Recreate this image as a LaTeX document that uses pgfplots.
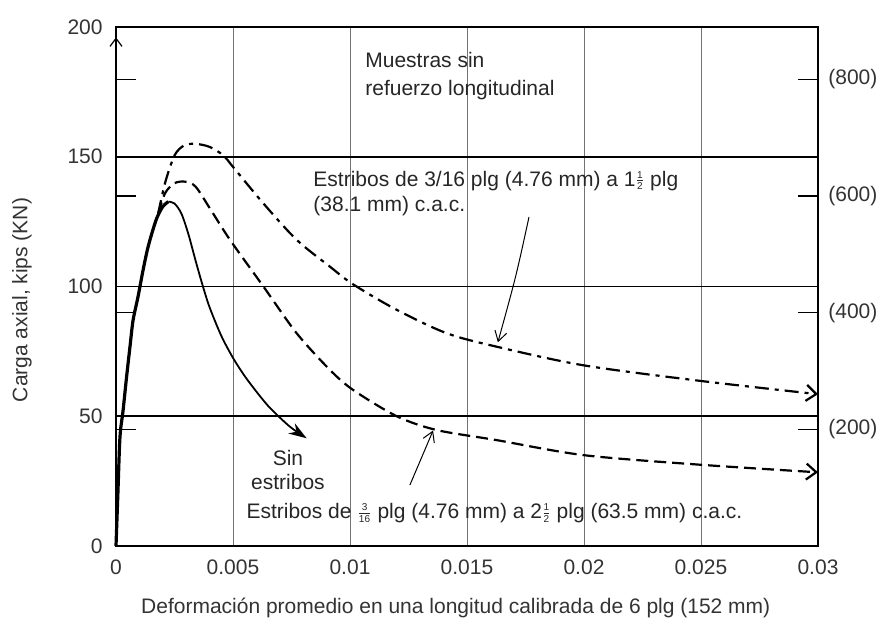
\documentclass[border=0pt]{standalone}
\usepackage{fontspec}
\setmainfont{Liberation Sans}
\usepackage{pgfplots}
\pgfplotsset{compat=1.18}
\usetikzlibrary{arrows.meta}

% small stacked fraction set in the text font
\newcommand{\fr}[2]{\hspace{0.8pt}$\vcenter{\offinterlineskip\halign{\hfil##\hfil\cr
  \tiny #1\cr\noalign{\kern1pt\hrule height 0.3pt\kern1pt}\tiny #2\cr}}$\hspace{0.8pt}}

\begin{document}
\fontsize{10.5}{12.6}\selectfont
\begin{tikzpicture}
\useasboundingbox (-58pt,-41.5pt) rectangle (384pt,273pt);

% ---------------- main axis: kips versus strain ----------------
\begin{axis}[
  at={(0pt,0pt)}, anchor=south west, scale only axis,
  width=351pt, height=259.5pt,
  xmin=0, xmax=0.03, ymin=0, ymax=200,
  scaled x ticks=false, scaled y ticks=false,
  xtick={0,0.005,0.01,0.015,0.02,0.025,0.03},
  xticklabels={0,0.005,0.01,0.015,0.02,0.025,0.03},
  ytick={0,50,100,150,200},
  yticklabels={0,50,100,150,200},
  major tick length=0pt,
  xmajorgrids, grid style={black!55, line width=0.4pt},
  axis line style={line width=0.6pt},
  tick label style={text=black!80},
  xticklabel style={yshift=-3pt},
  yticklabel style={xshift=-3pt},
  xlabel={Deformación promedio en una longitud calibrada de 6 plg (152 mm)},
  xlabel style={at={(axis description cs:0.484,-0.1195)}, anchor=center, text=black!80},
  ylabel={Carga axial, kips (KN)},
  ylabel style={at={(axis description cs:-0.134,0.474)}, anchor=center, text=black!80},
  clip=false,
]
% heavy horizontal rules
\draw[line width=1.1pt] (axis cs:0,0)   -- (axis cs:0.03,0);
\draw[line width=0.9pt] (axis cs:0,50)  -- (axis cs:0.03,50);
\draw[line width=0.9pt] (axis cs:0,100) -- (axis cs:0.03,100);
\draw[line width=1.2pt] (axis cs:0,150) -- (axis cs:0.03,150);
\draw[line width=1.3pt] (axis cs:0,200) -- (axis cs:0.03,200);
% arrow on the load axis
\draw[line width=0.6pt, -{Straight Barb[length=4pt,width=6pt]}] (axis cs:0,186) -- (axis cs:0,196);

% common ascending branch
\addplot[black, line width=1.6pt, smooth, tension=0.5] coordinates {
  (0,0) (0.00008,20) (0.00017,42) (0.0003,52) (0.00045,65) (0.0006,77)
  (0.00073,87) (0.00094,96) (0.00115,106) (0.00135,114.5) (0.00155,121)
  (0.00175,126.5) (0.002,130.8) (0.00224,132.7)
};
% sin estribos
\addplot[black, line width=0.9pt, smooth, tension=0.5,
  -{Stealth[length=9pt,width=6pt]}] coordinates {
  (0.00224,132.7) (0.0025,132) (0.0028,128) (0.0031,120) (0.0034,110)
  (0.0037,100.5) (0.004,92) (0.0045,81) (0.005,72.5) (0.0055,65.5)
  (0.006,59.5) (0.0065,54) (0.007,49.5) (0.0075,45.5) (0.00815,41.5)
};
% estribos a 2 1/2 plg
\addplot[black, line width=1.1pt, smooth, tension=0.5, dash pattern=on 6pt off 3pt,
  -{Straight Barb[length=5pt,width=8pt]}] coordinates {
  (0.0018,128) (0.0021,136) (0.0025,139.8) (0.00295,140.4) (0.0034,138.5)
  (0.00402,130) (0.00487,118) (0.0063,100) (0.00772,82) (0.00915,67.8)
  (0.01014,60.1) (0.012,50) (0.0137,44.7) (0.01627,40.8) (0.02,35)
  (0.025,31.3) (0.03,28.4)
};
% estribos a 1 1/2 plg
\addplot[black, line width=1.1pt, smooth, tension=0.5,
  dash pattern=on 7pt off 3pt on 2pt off 3pt,
  -{Straight Barb[length=5pt,width=8pt]}] coordinates {
  (0.0018,128) (0.0021,140) (0.0025,150.5) (0.0029,154.3) (0.00338,155)
  (0.004,153.8) (0.00459,150.5) (0.00501,146) (0.0063,132) (0.00772,118)
  (0.00915,107.6) (0.01014,100.8) (0.012,91) (0.01413,82) (0.01627,76.8)
  (0.02,69.6) (0.025,63.6) (0.03,58.5)
};

% annotations
\node[anchor=west, inner sep=0pt, align=left, text=black!85, font=\fontsize{10.5}{14}\selectfont]
  at (axis cs:0.01064,181.1) {Muestras sin\\refuerzo longitudinal};
\node[anchor=west, inner sep=0pt, align=left, text=black!85, font=\fontsize{10.5}{12.5}\selectfont]
  at (axis cs:0.00842,136) {Estribos de 3/16 plg (4.76 mm) a 1\fr{1}{2} plg\\(38.1 mm) c.a.c.};
\node[align=center, inner sep=0pt, text=black!85, font=\fontsize{10.5}{12}\selectfont]
  at (axis cs:0.00735,29.3) {Sin\\estribos};
\node[anchor=west, inner sep=0pt, text=black!85]
  at (axis cs:0.00556,12.7) {Estribos de \fr{3}{16} plg (4.76 mm) a 2\fr{1}{2} plg (63.5 mm) c.a.c.};
\draw[line width=0.5pt, -{Straight Barb[length=5pt,width=6pt]}]
  (axis cs:0.01765,126.8) .. controls (axis cs:0.0171,104) .. (axis cs:0.01632,78.5);
\draw[line width=0.5pt, -{Straight Barb[length=5pt,width=6pt]}]
  (axis cs:0.01256,23.5) -- (axis cs:0.01355,44.5);
\end{axis}

% ---------------- kN scale ----------------
\begin{axis}[
  at={(0pt,0pt)}, anchor=south west, scale only axis,
  width=351pt, height=259.5pt,
  xmin=0, xmax=0.03, ymin=0, ymax=889.6,
  hide x axis,
  y axis line style={draw=none},
  ytick={200,400,600,800},
  yticklabels={(200),(400),(600),(800)},
  ytick pos=both, yticklabel pos=right,
  tick align=inside, major tick length=10pt,
  major tick style={black, line width=0.6pt},
  tick label style={text=black!80},
  yticklabel style={xshift=1.5pt},
]
\end{axis}
\end{tikzpicture}
\end{document}
